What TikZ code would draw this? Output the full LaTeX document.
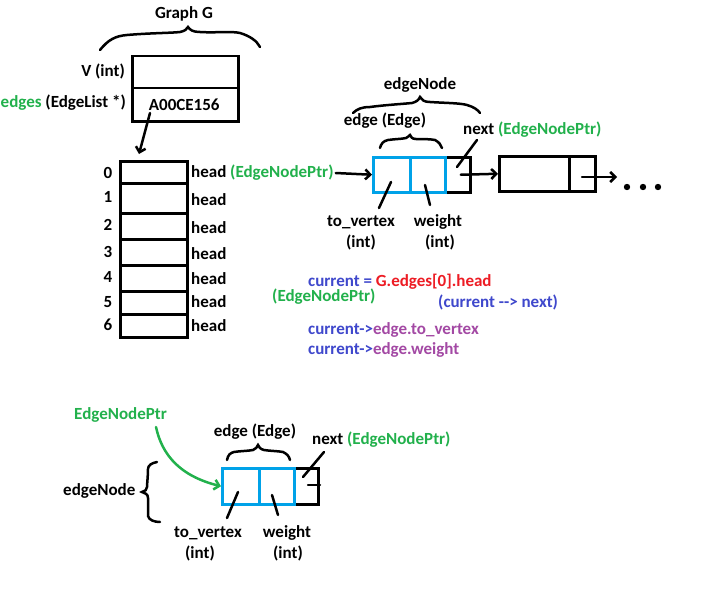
\documentclass[tikz,border=0pt]{standalone}
\usepackage{fontspec}
\setmainfont{Carlito}
\usetikzlibrary{arrows.meta}
\definecolor{pgreen}{HTML}{22B14C}
\definecolor{pblue}{HTML}{3F48CC}
\definecolor{pred}{HTML}{ED1C24}
\definecolor{ppurple}{HTML}{A349A4}
\definecolor{pcyan}{HTML}{00A2E8}
\begin{document}
\begin{tikzpicture}[x=1pt,y=-1pt,
  lbl/.style={font=\bfseries\fontsize{17}{19}\selectfont, inner sep=0pt},
  ln/.style={line width=2.5pt, line cap=round},
  cell/.style={draw, line width=2.5pt, inner sep=0pt, anchor=north west},
  bcell/.style={cell, draw=pcyan},
  arr/.style={ln, -{Straight Barb[length=5pt,width=10pt,line width=2.5pt]}},
  brc/.style={line width=2.5pt, line cap=round}
]
\useasboundingbox[fill=white] (0,0) rectangle (702,602);

% Graph G
\node[lbl] (gg) at (184,14) {Graph G};
\draw[brc] (100,50) .. controls (108,40) and (115,36) .. (127,35)
  .. controls (150,33) and (172,33) .. (180,32) .. controls (185,31) and (187,29) .. (188,27)
  .. controls (190,30) and (193,32) .. (200,32) .. controls (215,33) and (232,31) .. (240,33)
  .. controls (250,36) and (257,41) .. (260,47);
\node[cell, minimum width=106, minimum height=32] (vbox) at (131,55) {};
\node[cell, minimum width=106, minimum height=33] (ebox) at (131,87) {};
\node[lbl] (addr) at ([xshift=-1pt]ebox.center) {A00CE156};
\node[lbl, anchor=east] (vint) at (125,71) {V (int)};
\node[lbl, anchor=east] (edg) at (126,103) {\textcolor{pgreen}{edges} (EdgeList *)};

% array
\def\rowtops{{160,182,212,238,264,290,313,336}}
\foreach \i/\ly in {0/173,1/197,2/225,3/252,4/277,5/302,6/325}{
  \pgfmathsetmacro{\ta}{\rowtops[\i]}
  \pgfmathsetmacro{\tb}{\rowtops[\i+1]}
  \pgfmathsetmacro{\hh}{\tb-\ta}
  \node[cell, minimum width=67, minimum height=\hh] (c\i) at (119,\ta) {};
  \node[lbl] (idx\i) at (108,\ly) {\i};
}
\foreach \i/\hy in {1/200,2/228,3/254,4/279,5/302,6/326}{
  \node[lbl, anchor=west] (head\i) at (191,\hy) {head};
}
\node[lbl, anchor=west] (head0) at (191,173) {head \textcolor{pgreen}{(EdgeNodePtr)}};
\coordinate (ptr) at (150,113);
\coordinate (ptrend) at (139,154);
\draw[arr] (ptr) -- (ptrend);

% edge node 1
\node[lbl] (en1) at (420,85) {edgeNode};
\draw[brc] (353,113) .. controls (357,109) and (362,107) .. (370,107)
  .. controls (385,105) and (402,104) .. (412,103) .. controls (416,102) and (419,100) .. (420,97)
  .. controls (422,100) and (424,102) .. (430,102) .. controls (445,103) and (460,103) .. (467,105)
  .. controls (474,107) and (478,110) .. (480,113);
\node[lbl] (ee1) at (385,121) {edge (Edge)};
\draw[brc] (380,148) .. controls (381,144) and (383,141) .. (388,140)
  .. controls (395,139) and (402,139) .. (406,138) .. controls (408,137) and (409,136) .. (410,135)
  .. controls (411,137) and (412,139) .. (416,139) .. controls (422,139) and (430,139) .. (435,140)
  .. controls (439,142) and (441,145) .. (442,148);
\node[cell, minimum width=25, minimum height=35] (nx1) at (444,156) {};
\node[bcell, minimum width=37, minimum height=35] (tv1) at (372,156) {};
\node[bcell, minimum width=35, minimum height=35] (wt1) at (409,156) {};
\draw[arr] (head0.east) ++(2,0) coordinate (h0e) (h0e) -- (tv1.west);
\node[lbl, anchor=west] (nxl1) at (463,130) {next \textcolor{pgreen}{(EdgeNodePtr)}};
\coordinate (tva) at (391,182); \coordinate (tvb) at (379,208);
\coordinate (wta) at (425,185); \coordinate (wtb) at (430,205);
\coordinate (nxa) at (457,167); \coordinate (nxb) at (477,140);
\draw[ln] (tva) -- (tvb);
\draw[ln] (wta) -- (wtb);
\draw[ln] (nxa) -- (nxb);
\node[lbl] (tvl1) at (361,222) {to\_vertex};
\node[lbl] (tvi1) at (361,242) {(int)};
\node[lbl] (wtl1) at (438,222) {weight};
\node[lbl] (wti1) at (440,242) {(int)};

% node 2
\node[cell, minimum width=70, minimum height=35] (n2a) at (498,155) {};
\node[cell, minimum width=26, minimum height=35] (n2b) at (568,155) {};
\draw[arr] (nx1.center) ++(3,0) coordinate (nx1c) (nx1c) -- (n2a.west);
\coordinate (n2out) at (617,177);
\draw[arr] (582,177) coordinate (n2in) (n2in) -- (n2out);
\foreach \k/\dx in {1/627,2/643,3/658}{
  \fill (\dx,187) circle (3.2);
}

% code text
\node[lbl, anchor=west] (cur) at (308,282) {\textcolor{pblue}{current =} \textcolor{pred}{G.edges[0].head}};
\node[lbl, anchor=west, text=pgreen] (enp) at (272,297) {(EdgeNodePtr)};
\node[lbl, anchor=west, text=pblue] (cnx) at (438,302) {(current -{}-> next)};
\node[lbl, anchor=west] (ctv) at (308,330) {\textcolor{pblue}{current->}\textcolor{ppurple}{edge.to\_vertex}};
\node[lbl, anchor=west] (cwt) at (308,350) {\textcolor{pblue}{current->}\textcolor{ppurple}{edge.weight}};

% bottom node
\node[lbl, anchor=west, text=pgreen] (eptr) at (74,415) {EdgeNodePtr};
\node[lbl] (ee2) at (255,432) {edge (Edge)};
\draw[brc] (227,460) .. controls (228,455) and (230,453) .. (234,452)
  .. controls (240,451) and (248,451) .. (253,450) .. controls (256,449) and (257,447) .. (258,445)
  .. controls (259,447) and (260,449) .. (264,450) .. controls (270,451) and (278,451) .. (283,452)
  .. controls (287,454) and (289,456) .. (290,460);
\node[lbl, anchor=west] (nxl2) at (312,440) {next \textcolor{pgreen}{(EdgeNodePtr)}};
\node[lbl, anchor=west] (en2) at (63,491) {edgeNode};
\draw[brc] (157,462) .. controls (152,463) and (148,465) .. (148,469)
  .. controls (148,476) and (147,484) .. (147,487) .. controls (147,490) and (145,491) .. (142,492)
  .. controls (145,493) and (148,494) .. (148,498) .. controls (148,505) and (148,512) .. (148,516)
  .. controls (149,520) and (154,522) .. (160,522);
\node[cell, minimum width=24, minimum height=36] (nx2) at (293,467) {};
\node[bcell, minimum width=37, minimum height=36] (tv2) at (221,467) {};
\node[bcell, minimum width=35, minimum height=36] (wt2) at (258,467) {};
\coordinate (tick1) at (308,485); \coordinate (tick2) at (320,485);
\draw[ln] (tick1) -- (tick2);
\coordinate (nx2a) at (303,477); \coordinate (nx2b) at (324,452);
\draw[ln] (nx2a) -- (nx2b);
\coordinate (tv2a) at (238,492); \coordinate (tv2b) at (227,518);
\coordinate (wt2a) at (272,495); \coordinate (wt2b) at (278,515);
\draw[ln] (tv2a) -- (tv2b);
\draw[ln] (wt2a) -- (wt2b);
\node[lbl] (tvl2) at (208,533) {to\_vertex};
\node[lbl] (tvi2) at (200,553) {(int)};
\node[lbl] (wtl2) at (287,533) {weight};
\node[lbl] (wti2) at (288,553) {(int)};
\coordinate (gstart) at (156,427);
\draw[arr, draw=pgreen] (gstart) .. controls (162,455) and (180,476) .. (tv2.west);
\end{tikzpicture}
\end{document}
